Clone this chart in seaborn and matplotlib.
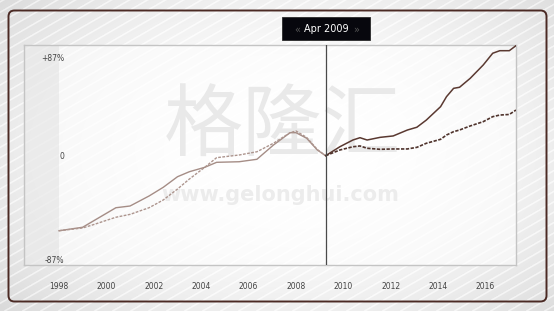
import numpy as np
import pandas as pd
import matplotlib
matplotlib.use("Agg")
import matplotlib.pyplot as plt
from matplotlib.patches import FancyBboxPatch, Rectangle
import matplotlib.transforms as mtrans
import seaborn as sns

# ---------------- data (fractional years, % change vs Apr 2009) ----------------
dates = [1998.0, 1999.0, 1999.4, 2000.4, 2001.0, 2001.8, 2002.4, 2003.0, 2003.5,
         2004.15, 2004.65, 2005.6, 2006.35, 2007.05, 2007.75, 2008.0, 2008.45,
         2008.9, 2009.25, 2009.85, 2010.4, 2010.7, 2011.0, 2011.55, 2012.1,
         2012.7, 2013.1, 2013.5, 2014.1, 2014.35, 2014.65, 2014.9, 2015.35,
         2015.9, 2016.3, 2016.6, 2017.0, 2017.28]
solid_vals = [-64.6, -61.6, -56.8, -44.8, -43.3, -34.7, -27.2, -18.1, -13.8,
              -10.0, -5.7, -5.2, -3.1, 9.2, 19.8, 19.8, 15.0,
              4.9, 0.0, 7.7, 13.5, 15.5, 13.5, 15.8, 17.0,
              22.1, 24.5, 30.7, 42.2, 50.8, 58.0, 58.9, 66.6,
              78.1, 88.2, 90.4, 90.4, 94.7]
dashed_vals = [-64.6, -62.2, -59.7, -53.0, -50.5, -44.8, -38.1, -28.7, -20.1,
               -10.0, -1.7, 0.6, 3.4, 10.7, 19.8, 21.3, 15.7,
               5.3, 0.0, 4.9, 7.7, 8.4, 6.4, 5.5, 5.8,
               5.8, 7.2, 10.7, 14.1, 17.8, 20.7, 22.1, 25.6,
               29.3, 33.6, 35.0, 35.5, 39.3]
x_ticks = [1998, 2000, 2002, 2004, 2006, 2008, 2010, 2012, 2014, 2016]
y_ticks = [87, 0, -87]
y_labels = ["+87%", "0", "-87%"]
marker_date = 2009.25
marker_label = "Apr 2009"

# ---------------- figure ----------------
W, H = 554, 311
fig = plt.figure(figsize=(W / 100, H / 100), dpi=100)

# background with faint diagonal stripes and soft radial highlight
bg = fig.add_axes([0, 0, 1, 1])
yy, xx = np.mgrid[0:H, 0:W].astype(float)
r = np.sqrt(((xx - 290) / 320) ** 2 + ((yy - 150) / 200) ** 2)
r = np.clip(r, 0, 1.2)
base = 1.0 - 0.10 * r ** 2
phase = (0.5 * xx + 0.866 * yy) % 9.0
stripe = np.clip(1.3 - np.abs(phase - 1.0), 0, 1)
img = base + stripe * (0.06 * r ** 1.5)
img = np.clip(img, 0, 1)
rgb = np.dstack([img, img, img])
bg.imshow(rgb, extent=(0, W, H, 0), aspect="auto", interpolation="bilinear")
bg.set_xlim(0, W)
bg.set_ylim(H, 0)
bg.axis("off")

frame = FancyBboxPatch((8.5, 10.5), 538, 291,
                       boxstyle="round,pad=0,rounding_size=6",
                       facecolor="none", edgecolor="#4b2a24", lw=1.4)
bg.add_patch(frame)

# tooltip box
bg.add_patch(Rectangle((282, 17), 88, 23, facecolor="#07070d", edgecolor="#2a2a2a", lw=0.6))
bg.text(326, 29, marker_label, color="white", fontsize=7, ha="center", va="center",
        family="DejaVu Sans")
bg.text(297, 29.5, "«", color="#555555", fontsize=7, ha="center", va="center")
bg.text(356, 29.5, "»", color="#555555", fontsize=7, ha="center", va="center")

# ---------------- plot axes ----------------
L, R, T, B = 24, 516, 45, 265
ax = fig.add_axes([L / W, 1 - B / H, (R - L) / W, (B - T) / H])
ax.set_facecolor("white")
ax.patch.set_alpha(0.55)
px_per_year = 23.7
x0 = 1998 - (59 - L) / px_per_year
x1 = 1998 + (R - 59) / px_per_year
ax.set_xlim(x0, x1)
ax.set_ylim(-94.1, 95.3)
ax.axvspan(x0, 1998, color="#d8d8d8", alpha=0.38, lw=0, zorder=0)

# watermark (inside plot, behind lines)
ax.text(0.525, 0.625, "格隆汇", fontsize=57, color="#e9e9e9", ha="center", va="center",
        family=["Noto Sans CJK SC", "DejaVu Sans"], transform=ax.transAxes, zorder=1)
ax.text(0.52, 0.32, "www.gelonghui.com", fontsize=15, color="#ececec", ha="center",
        va="center", fontweight="bold", family="DejaVu Sans", transform=ax.transAxes,
        zorder=1)

df = pd.DataFrame({"date": dates, "solid": solid_vals, "dashed": dashed_vals})
pre = df[df["date"] <= marker_date]
post = df[df["date"] >= marker_date]

sns.lineplot(data=pre, x="date", y="solid", ax=ax, color="#a58d86", lw=1.0, zorder=3)
sns.lineplot(data=pre, x="date", y="dashed", ax=ax, color="#ad958e", lw=1.0,
             linestyle=(0, (2.0, 1.0)), zorder=3)
sns.lineplot(data=post, x="date", y="solid", ax=ax, color="#5a3931", lw=1.1, zorder=4)
sns.lineplot(data=post, x="date", y="dashed", ax=ax, color="#4f332c", lw=1.2,
             linestyle=(0, (2.0, 0.9)), zorder=4)

ax.axvline(marker_date, color="#4a4a4a", lw=0.9, zorder=5)

ax.set_xlabel("")
ax.set_ylabel("")
ax.set_xticks(x_ticks)
ax.set_xticklabels([str(v) for v in x_ticks], fontsize=5.5, color="#444444")
ax.tick_params(axis="x", length=0, pad=12)
ax.set_yticks(y_ticks)
ax.set_yticklabels(y_labels, fontsize=5.5, color="#444444")
ax.tick_params(axis="y", length=0, direction="in", pad=-29)
for lab in ax.get_yticklabels():
    lab.set_horizontalalignment("right")
labs = ax.get_yticklabels()
labs[0].set_transform(labs[0].get_transform() + mtrans.ScaledTranslation(0, -3 / 100, fig.dpi_scale_trans))
labs[2].set_transform(labs[2].get_transform() + mtrans.ScaledTranslation(0, -2.5 / 100, fig.dpi_scale_trans))
for s in ax.spines.values():
    s.set_color("#c4c4c4")
    s.set_linewidth(1.0)
ax.grid(False)

fig.savefig("out.png", dpi=100)
